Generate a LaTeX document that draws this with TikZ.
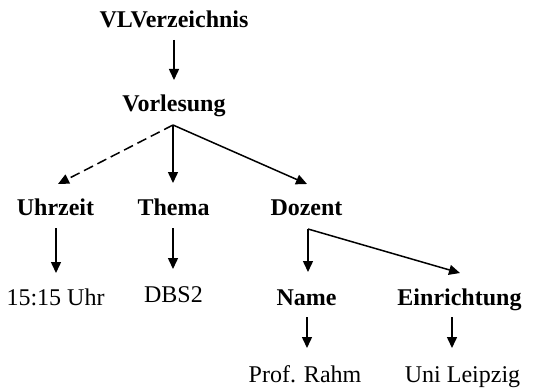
\documentclass[tikz,border=0pt]{standalone}
\usepackage{fontspec}
\setmainfont{Liberation Serif}
\usetikzlibrary{arrows.meta}
\begin{document}
\begin{tikzpicture}[x=1pt,y=1pt,
  lbl/.style={anchor=base,inner sep=0pt,font=\fontsize{24}{28}\selectfont},
  head/.style={lbl,font=\fontsize{24}{28}\selectfont\bfseries},
  arr/.style={line width=1.5pt,-{Triangle[length=11pt,width=10pt]}},
  dashedarr/.style={arr,dash pattern=on 10pt off 5pt}]
\useasboundingbox (0,0) rectangle (557,389);

% element nodes
\node[head] (vl) at (174,361) {VLVerzeichnis};
\node[head] (vo) at (174,277) {Vorlesung};
\node[head] (uz) at (55.5,174) {Uhrzeit};
\node[head] (th) at (173.5,174) {Thema};
\node[head] (dz) at (306.5,174) {Dozent};
\node[head] (nm) at (306.5,84) {Name};
\node[head] (ei) at (459.5,84) {Einrichtung};

% value nodes
\node[lbl] (t1) at (55.5,84) {15:15 Uhr};
\node[lbl] (t2) at (173.5,87) {DBS2};
\node[lbl] (pr) at (305,7) {Prof. Rahm};
\node[lbl] (ul) at (462.5,7) {Uni Leipzig};

% branching points
\coordinate (f1) at ([xshift=-1pt,yshift=-13pt]vo.base);
\coordinate (f2) at ([xshift=1.5pt,yshift=-14pt]dz.base);

% connectors
\draw[arr] ([yshift=-12pt]vl.base) -- ([yshift=32pt]vo.base);
\draw[dashedarr] (f1) -- ([xshift=2.5pt,yshift=31pt]uz.base);
\draw[arr] (f1) -- ([xshift=-0.5pt,yshift=32pt]th.base);
\draw[arr] (f1) -- ([xshift=0.5pt,yshift=31pt]dz.base);
\draw[arr] ([xshift=0.5pt,yshift=-13pt]uz.base) -- ([xshift=0.5pt,yshift=32pt]t1.base);
\draw[arr] ([xshift=-0.5pt,yshift=-13pt]th.base) -- ([xshift=-0.5pt,yshift=33pt]t2.base);
\draw[arr] (f2) -- ([xshift=1.5pt,yshift=33pt]nm.base);
\draw[arr] (f2) -- ([xshift=0.5pt,yshift=32pt]ei.base);
\draw[arr] ([xshift=0.5pt,yshift=-12pt]nm.base) -- ([xshift=2pt,yshift=34pt]pr.base);
\draw[arr] ([xshift=-7.5pt,yshift=-12pt]ei.base) -- ([xshift=-10.5pt,yshift=34pt]ul.base);
\end{tikzpicture}
\end{document}
